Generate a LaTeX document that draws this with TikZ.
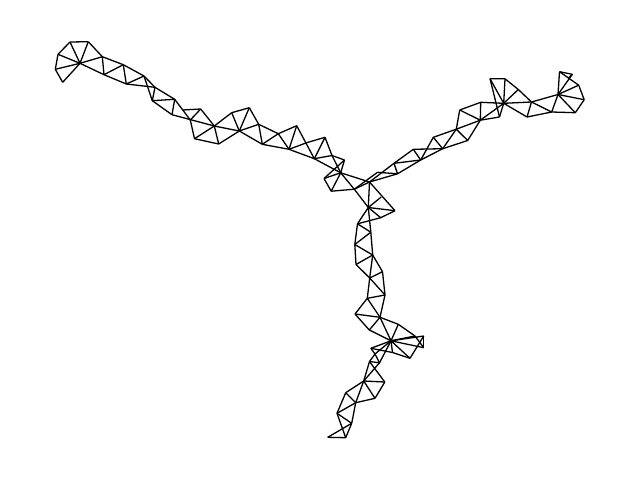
\documentclass[tikz,border=0pt]{standalone}
\begin{document}
\begin{tikzpicture}[x=1pt, y=-1pt]
    \tikzstyle{edge} = [black, line width=1.3pt, line join=round]
    \useasboundingbox (0, 0) rectangle (640, 480);
    % left arm
    \foreach \name/\px/\py in {a1/62.7/82.3, a2/55.3/69.3, a3/58/54.3, a4/70/42, a5/88.3/41.7, a6/80/63.3, a7/102.3/56.7, a8/104/74.7, a9/123.3/64.7, a10/126.3/84, a11/144/76, a13/155/87.3, a14/152.3/100.7, a15/174.7/99.3, a16/172/114.7, a17/190.3/120, a18/200.7/109, a19/194.5/138.7, a21/182.7/110,
        b1/214.3/126, b2/218.7/144, b3/231.7/112.7, b4/249.3/107.7, b5/239.3/131, b6/258.7/124.3, b7/262.3/144.3, b8/278.3/133.7, b9/296.7/125.7, b10/289/149.3, b11/306.7/142.7, b12/325/137.3, b13/314.3/158.7, b14/332/155.5, b15/344.5/160, b17/340.7/172.8, b18/324/178.5, b19/331.2/191.2}
        \coordinate (\name) at (\px, \py);
    % right arm
    \foreach \name/\px/\py in {c1/354.3/189.2, c2/369.5/182, d1/377.5/172.3, d2/397.5/173.8, d3/394/163.3, d4/413.3/149.3, d5/420.7/160, d6/442.7/148.7, d7/433.3/137.3, d8/456.3/129.2, d9/467.7/140.5, d10/459.7/110, d11/480.7/102.3, d12/480.3/120.2,
        f1/499.5/117, f2/503.7/103.3, f4/490/78.7, f5/505/78.8, f6/518.3/89.5, f7/531.5/102, f8/527/117, f9/551.7/112, f10/558/94.5, f11/559.5/71.7, f12/572.3/74.3, f13/568.3/78.3, f14/578.7/85.2, f15/584.2/99.7, f16/575.3/112.7}
        \coordinate (\name) at (\px, \py);
    % lower arm
    \foreach \name/\px/\py in {e0/368.3/207.5, e1/381.2/197, e2/395/210.7, e3/380.7/217.7, e4/357.5/223.8, e5/370.8/232.2, e6/354.8/244.5, e7/372.7/255, e8/356/264.5, e9/382.5/271.7, e10/369.7/278, g1/385/295, g2/367.3/298.3, g3/355/314, g4/380/317.3, g5/369.3/330, g6/398.3/324.3,
        h0/391/340.8, h1/415/336, h2/423.7/336, h3/423.7/347.7, h4/410/358.3, h5/392.5/352.5, h6/370.8/348.3, h7/375/354, i1/369.5/361.5, i2/379.5/362.8, i3/384.8/382, i4/363.7/381, i5/375/398.3, i6/345.7/392.7, i7/355.7/402.7, i8/337/413.3, i9/351.7/423.3, i10/345.7/437.7, i11/327.7/437.3}
        \coordinate (\name) at (\px, \py);
    \foreach \from/\to in {a1/a2, a2/a3, a3/a4, a4/a5, a5/a7, a1/a6, a2/a6, a3/a6, a4/a6, a5/a6, a6/a7, a6/a8, a7/a8, a7/a9, a8/a9, a8/a10, a9/a10, a9/a11, a10/a11, a10/a13, a11/a13, a11/a14, a13/a14, a13/a15, a14/a15, a14/a16, a15/a16, a15/a17, a16/b1, a21/a18, a17/a18, a18/b1, a17/a19, a19/b1, a19/b2, b1/b2, b1/b3, b1/b5, b2/b5, b3/b5, b3/b4, b4/b5, b4/b6, b5/b6, b5/b7, b6/b7, b6/b8, b8/b9, b7/b8, b8/b10, b9/b10, b7/b10, b9/b13, b10/b11, b11/b12, b12/b13, b10/b13, b12/b14, b13/b14, b14/b15, b13/b17, b14/b17, b15/b17, b15/b18, b18/b17, b17/b19, b18/b19, b19/c1, b17/c1, b17/c2}
        \draw[edge] (\from) -- (\to);
    \foreach \from/\to in {c1/c2, c1/d1, c2/d2, d1/d2, d2/d3, d3/c2, d3/d4, d3/d5, d4/d5, d2/d5, d4/d6, d5/d7, d6/d7, d5/d6, d6/d8, d7/d8, d6/d9, d8/d9, d8/d10, d8/d12, d9/d12, d10/d11, d10/d12, d11/d12, d11/f2, d12/f2, d12/f1, f1/f2, f4/f1, f4/f2, f5/f2, f4/f5, f5/f6, f6/f7, f6/f2, f2/f7, f2/f8, f7/f8, f7/f10, f7/f9, f8/f9, f9/f10, f10/f16, f9/f16, f10/f15, f15/f16, f10/f14, f14/f15, f11/f12, f11/f10, f12/f13, f11/f14, f10/f12}
        \draw[edge] (\from) -- (\to);
    \foreach \from/\to in {c1/e0, c2/e0, e0/e1, c2/e2, e0/e2, e0/e3, e2/e3, e0/e4, e0/e5, e4/e3, e4/e5, e4/e6, e5/e6, e5/e7, e6/e7, e6/e8, e7/e8, e7/e9, e7/e10, e8/e10, e9/e10, e9/g1, e10/g1, e10/g2, g1/g2, g1/g4, g2/g3, g2/g4, g3/g4, g3/g5, g4/g5, g4/g6, g4/h0, g5/h0, g6/h0, g6/h1, h0/h1, h0/h2, h0/h3, h1/h3, h2/h3, h2/h4, h0/h4, h0/h5, h5/h4, h6/h5, h6/h0, h7/h0, h6/h7, i2/h0, h7/i1, h7/i2, i1/i2, i1/i3, i2/i4, i1/i4, i3/i4, i3/i5, i4/i5, i4/i6, i4/i7, i6/i7, i5/i7, i6/i8, i7/i8, i7/i9, i8/i9, i8/i10, i9/i10, i11/i10, i11/i9}
        \draw[edge] (\from) -- (\to);
\end{tikzpicture}
\end{document}
